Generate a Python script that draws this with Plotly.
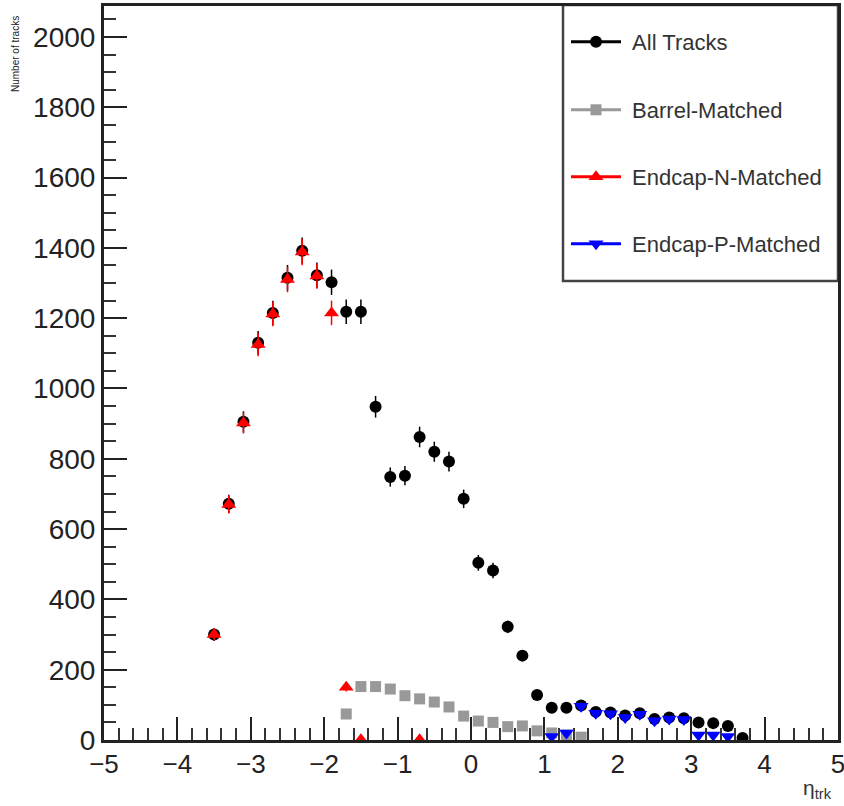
import numpy as np
import plotly.graph_objects as go

# ---------------- data ----------------
all_x = [-3.5, -3.3, -3.1, -2.9, -2.7, -2.5, -2.3, -2.1, -1.9, -1.7, -1.5, -1.3,
         -1.1, -0.9, -0.7, -0.5, -0.3, -0.1, 0.1, 0.3, 0.5, 0.7, 0.9, 1.1, 1.3,
         1.5, 1.7, 1.9, 2.1, 2.3, 2.5, 2.7, 2.9, 3.1, 3.3, 3.5, 3.7]
all_y = [300, 672, 905, 1130, 1215, 1315, 1392, 1322, 1302, 1218, 1218, 948,
         748, 752, 862, 820, 792, 686, 504, 482, 322, 240, 128, 92, 92,
         98, 80, 78, 70, 76, 60, 64, 62, 50, 48, 40, 6]

barrel_x = [-1.7, -1.5, -1.3, -1.1, -0.9, -0.7, -0.5, -0.3, -0.1, 0.1, 0.3, 0.5,
            0.7, 0.9, 1.1, 1.3, 1.5]
barrel_y = [74, 152, 152, 145, 126, 117, 108, 94, 68, 54, 50, 38,
            40, 26, 20, 14, 8]

endn_x = [-3.5, -3.3, -3.1, -2.9, -2.7, -2.5, -2.3, -2.1, -1.9, -1.7, -1.5, -0.7]
endn_y = [300, 670, 902, 1125, 1212, 1310, 1388, 1320, 1215, 150, 1, 1]

endp_x = [1.1, 1.3, 1.5, 1.7, 1.9, 2.1, 2.3, 2.5, 2.7, 2.9, 3.1, 3.3, 3.5]
endp_y = [10, 20, 96, 76, 75, 64, 73, 55, 60, 58, 14, 14, 10]

series = [
    ("All Tracks", all_x, all_y, "#000000", "circle", 12),
    ("Barrel-Matched", barrel_x, barrel_y, "#999999", "square", 11),
    ("Endcap-N-Matched", endn_x, endn_y, "#ff0000", "triangle-up", 13),
    ("Endcap-P-Matched", endp_x, endp_y, "#0000ff", "triangle-down", 13),
]

x_ticks = [-5, -4, -3, -2, -1, 0, 1, 2, 3, 4, 5]
x_tick_text = ["\u22125", "\u22124", "\u22123", "\u22122", "\u22121", "0", "1", "2", "3", "4", "5"]

fig = go.Figure()

legend_names = ["legend", "legend2", "legend3", "legend4"]
for i, (name, xs, ys, col, sym, sz) in enumerate(series):
    fig.add_trace(go.Scatter(
        x=xs, y=ys, mode="markers", showlegend=False,
        marker=dict(symbol=sym, size=sz, color=col, line=dict(width=0)),
        error_y=dict(type="data", array=list(np.sqrt(ys)), color=col,
                     thickness=1.5, width=0),
    ))
for i, (name, xs, ys, col, sym, sz) in enumerate(series):
    fig.add_trace(go.Scatter(
        x=[None], y=[None], mode="lines+markers", name="\u00a0" + name,
        legend=legend_names[i],
        line=dict(color=col, width=3),
        marker=dict(symbol=sym, size=sz, color=col),
    ))

# plot area in px: left 104, right 838, top 6, bottom 740
W, H = 844, 806
L, R, T, B = 104, 838, 6, 740
pw, ph = R - L, B - T

def px_x(p):
    return (p - L) / pw

def px_y(p):
    return (B - p) / ph

leg_font = dict(family="Liberation Sans, Arial", size=22, color="#333333")
legend_rows = [42, 110, 177, 244]
layout_legends = {}
for i, row in enumerate(legend_rows):
    layout_legends[legend_names[i]] = dict(
        x=px_x(566), y=px_y(row), xanchor="left", yanchor="middle",
        bgcolor="rgba(0,0,0,0)", borderwidth=0, font=leg_font,
        itemwidth=50,
    )

ytick_font = dict(family="Liberation Sans, Arial", size=28, color="#222222")
xtick_font = dict(family="Liberation Sans, Arial", size=26, color="#222222")

fig.update_layout(
    width=W, height=H,
    margin=dict(l=L, r=W - R, t=T, b=H - B, autoexpand=False),
    paper_bgcolor="white", plot_bgcolor="white",
    xaxis=dict(
        range=[-5, 5], tickmode="array", tickvals=x_ticks, ticktext=x_tick_text,
        ticks="inside", ticklen=23, tickwidth=2, tickcolor="#222222",
        minor=dict(dtick=0.2, ticks="inside", ticklen=12, tickwidth=2, tickcolor="#333333"),
        showline=True, linecolor="#222222", linewidth=3, mirror=True,
        showgrid=False, zeroline=False, tickfont=xtick_font, automargin=False,
        ticklabeloverflow="allow", ticklabelstandoff=-1,
    ),
    yaxis=dict(
        range=[0, 2088], dtick=200, tick0=0,
        ticks="inside", ticklen=23, tickwidth=2, tickcolor="#222222",
        minor=dict(dtick=50, ticks="inside", ticklen=12, tickwidth=2, tickcolor="#333333"),
        showline=True, linecolor="#222222", linewidth=3, mirror=True,
        showgrid=False, zeroline=False, tickfont=ytick_font, automargin=False,
        ticklabeloverflow="allow",
    ),
    shapes=[dict(
        type="rect", xref="paper", yref="paper",
        x0=px_x(563), x1=px_x(838), y0=px_y(281), y1=px_y(5),
        line=dict(color="#444444", width=2.5), fillcolor="white", layer="below",
    )],
    annotations=[
        dict(text="\u03b7<sub>trk</sub>", xref="paper", yref="paper",
             x=px_x(834), y=px_y(804), xanchor="right", yanchor="bottom",
             showarrow=False, font=dict(family="Liberation Sans, Arial", size=21, color="#333333")),
        dict(text="Number of tracks", xref="paper", yref="paper",
             x=px_x(15), y=px_y(14), xanchor="center", yanchor="top",
             textangle=-90, showarrow=False,
             font=dict(family="Liberation Sans, Arial", size=10, color="#222222")),
    ],
    **layout_legends,
)

fig.write_html(
    "out.html",
    config={"displayModeBar": False},
    post_script="document.body.style.margin='0';document.body.style.overflow='hidden';",
)
